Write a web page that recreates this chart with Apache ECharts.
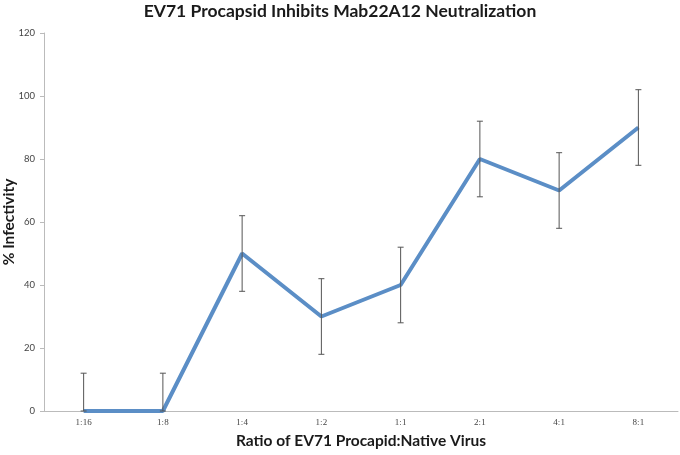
<!DOCTYPE html>
<html>
<head>
<meta charset="utf-8">
<script src="https://cdn.jsdelivr.net/npm/echarts@6/dist/echarts.min.js"></script>
<style>
  html, body { margin: 0; padding: 0; background: #fff; }
  #chart { width: 680px; height: 455px; }
</style>
</head>
<body>
<div id="chart"></div>
<script>
// data
const ratios = ['1:16', '1:8', '1:4', '1:2', '1:1', '2:1', '4:1', '8:1'];
const infectivity = [0, 0, 50, 30, 40, 80, 70, 90];
const errLow = [0, 0, 38, 18, 28, 68, 58, 78];
const errHigh = [12, 12, 62, 42, 52, 92, 82, 102];

const chart = echarts.init(document.getElementById('chart'));

const errData = ratios.map((r, i) => [i, errLow[i], errHigh[i]]);

chart.setOption({
  animation: false,
  textStyle: { fontFamily: 'Lato' },
  title: {
    text: 'EV71 Procapsid Inhibits Mab22A12 Neutralization',
    left: 'center',
    top: 2,
    padding: 0,
    textStyle: { fontSize: 17.5, fontWeight: 'bold', color: '#1a1a1a', fontFamily: 'Lato' }
  },
  grid: { left: 44, right: 2, top: 33, bottom: 44, outerBoundsMode: 'none' },
  xAxis: {
    type: 'category',
    data: ratios,
    name: 'Ratio of EV71 Procapid:Native Virus',
    nameLocation: 'middle',
    nameGap: 22,
    nameMoveOverlap: false,
    nameTextStyle: { fontSize: 15.5, fontWeight: 'bold', color: '#1a1a1a' },
    axisLine: { lineStyle: { color: '#bbb', width: 1 } },
    axisTick: { show: false },
    axisLabel: { fontSize: 9, color: '#444', margin: 7, fontFamily: 'Liberation Serif' },
    splitLine: { show: false }
  },
  yAxis: {
    type: 'value',
    min: 0,
    max: 120,
    interval: 20,
    name: '% Infectivity',
    nameLocation: 'middle',
    nameGap: 27,
    nameMoveOverlap: false,
    nameTextStyle: { fontSize: 15.5, fontWeight: 'bold', color: '#1a1a1a' },
    axisLine: { show: true, lineStyle: { color: '#bbb', width: 1 } },
    axisTick: { show: true, inside: false, length: 4, lineStyle: { color: '#bbb' } },
    axisLabel: { fontSize: 9.5, color: '#444', margin: 9 },
    splitLine: { show: false }
  },
  series: [
    {
      type: 'line',
      data: infectivity,
      symbol: 'none',
      lineStyle: { color: '#5B8EC6', width: 4 },
      z: 2
    },
    {
      type: 'custom',
      data: errData,
      z: 3,
      renderItem: function (params, api) {
        const x = api.value(0);
        const lo = api.coord([x, api.value(1)]);
        const hi = api.coord([x, api.value(2)]);
        const cap = 3;
        const style = { stroke: '#555', lineWidth: 1 };
        return {
          type: 'group',
          children: [
            { type: 'line', shape: { x1: lo[0], y1: lo[1], x2: hi[0], y2: hi[1] }, style: style },
            { type: 'line', shape: { x1: hi[0] - cap, y1: hi[1], x2: hi[0] + cap, y2: hi[1] }, style: style },
            { type: 'line', shape: { x1: lo[0] - cap, y1: lo[1], x2: lo[0] + cap, y2: lo[1] }, style: style }
          ]
        };
      }
    }
  ]
});
</script>
</body>
</html>
